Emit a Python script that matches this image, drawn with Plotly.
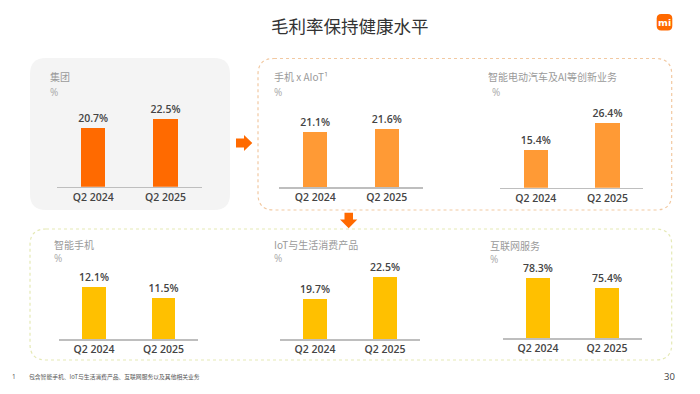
import plotly.graph_objects as go

# ---------------- data ----------------
categories = ["Q2 2024", "Q2 2025"]
group_margin = [20.7, 22.5]
phone_aiot_margin = [21.1, 21.6]
ev_ai_margin = [15.4, 26.4]
smartphone_margin = [12.1, 11.5]
iot_margin = [19.7, 22.5]
internet_margin = [78.3, 75.4]

panel_titles = ["集团", "手机 x AIoT¹", "智能电动汽车及AI等创新业务",
                "智能手机", "IoT与生活消费产品", "互联网服务"]
main_title = "毛利率保持健康水平"
footnote = "包含智能手机、IoT与生活消费产品、互联网服务以及其他相关业务"
page_no = "30"

# ---------------- layout helpers ----------------
W, H = 700, 394


def px(x):
    return x / W


def py(y):
    return 1 - y / H


CJK = "Noto Sans CJK SC"
NUM = "Open Sans"

panels = [
    dict(vals=group_margin, color="#FF6A00", x=(57, 201.7), base=186.7, top=100, yr=(9.4, 26.17),
         tx=48, ty=76.7, pty=91.7),
    dict(vals=phone_aiot_margin, color="#FF9A35", x=(279.3, 422.7), base=187.3, top=100, yr=(12.77, 26.0),
         tx=271.7, ty=76.7, pty=92),
    dict(vals=ev_ai_margin, color="#FF9A35", x=(500, 643.3), base=187.7, top=100, yr=(0, 35.6),
         tx=486, ty=76.7, pty=92, ptx=490),
    dict(vals=smartphone_margin, color="#FFC000", x=(59.3, 198.3), base=339, top=255, yr=(9.39, 13.74),
         tx=51.7, ty=244, pty=258),
    dict(vals=iot_margin, color="#FFC000", x=(280, 420), base=339, top=255, yr=(14.78, 25.19),
         tx=271.7, ty=244.3, pty=258),
    dict(vals=internet_margin, color="#FFC000", x=(503.3, 641.7), base=338.3, top=255, yr=(60.9, 85.04),
         tx=488.3, ty=245.5, pty=258.5),
]

fig = go.Figure()
layout = dict(width=W, height=H, margin=dict(l=0, r=0, t=0, b=0), autosize=False,
              paper_bgcolor="white", plot_bgcolor="rgba(0,0,0,0)", showlegend=False,
              bargap=0)

annotations = []
for i, p in enumerate(panels, start=1):
    sfx = "" if i == 1 else str(i)
    xa, ya = "x" + sfx, "y" + sfx
    fig.add_trace(go.Bar(
        x=categories, y=p["vals"], xaxis=xa, yaxis=ya,
        marker=dict(color=p["color"], line=dict(width=0)), width=0.34,
        text=[f"{v}%" for v in p["vals"]], textposition="outside",
        constraintext="none", cliponaxis=True,
        textfont=dict(family=NUM, size=10.5, color="#444444", weight=600),
        hoverinfo="skip",
    ))
    layout["xaxis" + sfx] = dict(
        domain=[px(p["x"][0]), px(p["x"][1])], anchor=ya, range=[-0.5, 1.5],
        showline=True, linecolor="#BEBEBE", linewidth=1.5, showgrid=False, zeroline=False,
        ticks="", tickfont=dict(family=NUM, size=10.5, color="#444444", weight=600),
        fixedrange=True,
    )
    layout["yaxis" + sfx] = dict(
        domain=[py(p["base"]), py(p["top"])], anchor=xa, range=list(p["yr"]),
        visible=False, fixedrange=True,
    )
    annotations.append(dict(text=panel_titles[i - 1], x=px(p["tx"]), y=py(p["ty"]),
                            xref="paper", yref="paper", xanchor="left", yanchor="middle",
                            showarrow=False, font=dict(family=CJK, size=10, color="#9A9A9A")))
    annotations.append(dict(text="%", x=px(p.get("ptx", p["tx"])), y=py(p["pty"]),
                            xref="paper", yref="paper", xanchor="left", yanchor="middle",
                            showarrow=False, font=dict(family=NUM, size=10, color="#A8A8A8")))

# title, footnote, page number, logo text
annotations += [
    dict(text=main_title, x=px(350.5), y=py(25), xref="paper", yref="paper",
         xanchor="center", yanchor="middle", showarrow=False,
         font=dict(family=CJK, size=17.5, color="#333333")),
    dict(text="1", x=px(14), y=py(376), xref="paper", yref="paper", xanchor="center",
         yanchor="middle", showarrow=False, font=dict(family=NUM, size=6.5, color="#555555")),
    dict(text=footnote, x=px(26.5), y=py(376), xref="paper", yref="paper", xanchor="left",
         yanchor="middle", showarrow=False, font=dict(family=CJK, size=5.8, color="#555555")),
    dict(text=page_no, x=px(677), y=py(376), xref="paper", yref="paper", xanchor="right",
         yanchor="middle", showarrow=False, font=dict(family=NUM, size=9.5, color="#444444")),
    dict(text="<b>mi</b>", x=px(664.5), y=py(22.3), xref="paper", yref="paper", xanchor="center",
         yanchor="middle", showarrow=False, font=dict(family="DejaVu Sans", size=9.5, color="white")),
]
layout["annotations"] = annotations


def rrect(x0, y0, x1, y1, r):
    def P(x, y):
        return f"{px(x):.5f},{py(y):.5f}"
    return (f"M{P(x0 + r, y0)} L{P(x1 - r, y0)} Q{P(x1, y0)} {P(x1, y0 + r)} "
            f"L{P(x1, y1 - r)} Q{P(x1, y1)} {P(x1 - r, y1)} L{P(x0 + r, y1)} "
            f"Q{P(x0, y1)} {P(x0, y1 - r)} L{P(x0, y0 + r)} Q{P(x0, y0)} {P(x0 + r, y0)} Z")


def poly(points):
    return "M" + " L".join(f"{px(x):.5f},{py(y):.5f}" for x, y in points) + " Z"


shapes = [
    # grey background for group panel
    dict(type="path", path=rrect(30, 58, 230, 210, 16), xref="paper", yref="paper",
         fillcolor="#F4F4F4", line=dict(width=0), layer="below"),
    # dotted orange box
    dict(type="path", path=rrect(258, 58.5, 671.7, 210, 16), xref="paper", yref="paper",
         fillcolor="rgba(0,0,0,0)", line=dict(color="#F2C9A2", width=1.2, dash="dot"), layer="below"),
    # dotted yellow box
    dict(type="path", path=rrect(30, 229, 671.7, 360, 16), xref="paper", yref="paper",
         fillcolor="rgba(0,0,0,0)", line=dict(color="#E5E9B5", width=1.2, dash="dot"), layer="below"),
    # right arrow
    dict(type="path", path=poly([(236, 138.5), (244, 138.5), (244, 135), (252.3, 143),
                                 (244, 151), (244, 147.5), (236, 147.5)]),
         xref="paper", yref="paper", fillcolor="#FF6A00", line=dict(width=0)),
    # down arrow
    dict(type="path", path=poly([(344.5, 212.7), (353, 212.7), (353, 219.5), (357.3, 219.5),
                                 (348.7, 228.3), (340, 219.5), (344.5, 219.5)]),
         xref="paper", yref="paper", fillcolor="#FF6A00", line=dict(width=0)),
    # logo
    dict(type="path", path=rrect(656.7, 14, 672.3, 30.5, 4.5), xref="paper", yref="paper",
         fillcolor="#FF6900", line=dict(width=0)),
]
layout["shapes"] = shapes

fig.update_layout(**layout)
fig.write_html("out.html", config={"displayModeBar": False, "staticPlot": True},
               post_script="document.body.style.margin='0';document.body.style.padding='0';")
